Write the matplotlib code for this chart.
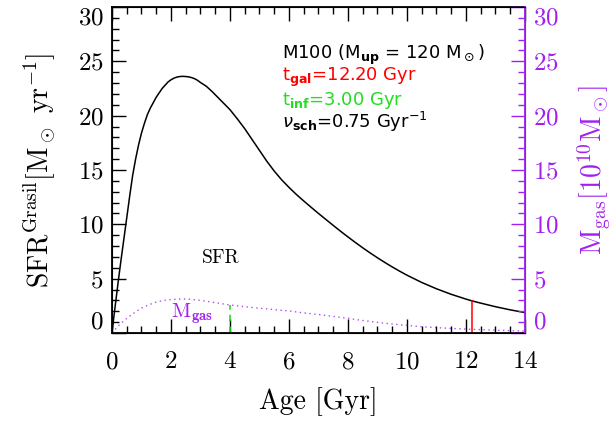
import matplotlib
matplotlib.use("Agg")
import matplotlib.pyplot as plt
from matplotlib.ticker import MultipleLocator

plt.rcParams['font.family'] = 'serif'
plt.rcParams['font.serif'] = ['cmr10', 'DejaVu Serif']
plt.rcParams['mathtext.fontset'] = 'cm'
plt.rcParams['axes.formatter.use_mathtext'] = True

purple = '#a020f0'

# star formation rate vs age (Msun/yr)
age_sfr = [0.0, 0.05, 0.1, 0.2, 0.3, 0.4, 0.5, 0.6, 0.7, 0.8, 0.9, 1.0,
           1.1, 1.2, 1.3, 1.4, 1.5, 1.6, 1.7, 1.8, 1.9, 2.0, 2.1, 2.2, 2.3,
           2.4, 2.5, 2.6, 2.7, 2.8, 2.9, 3.0, 3.2, 3.4, 3.6, 3.8, 4.0, 4.25,
           4.5, 4.75, 5.0, 5.25, 5.5, 5.75, 6.0, 6.25, 6.5, 6.75, 7.0, 7.25,
           7.5, 7.75, 8.0, 8.25, 8.5, 8.75, 9.0, 9.25, 9.5, 9.75, 10.0, 10.5,
           11.0, 11.5, 12.0, 12.2, 12.5, 13.0, 13.5, 14.0]
sfr = [0.0, 1.2, 2.3, 4.5, 6.6, 8.6, 10.6, 12.6, 14.5, 16.0, 17.3, 18.4,
       19.3, 20.1, 20.7, 21.2, 21.7, 22.1, 22.5, 22.8, 23.1, 23.3, 23.45,
       23.55, 23.6, 23.62, 23.6, 23.57, 23.5, 23.4, 23.25, 23.05, 22.7,
       22.2, 21.65, 21.1, 20.55, 19.7, 18.8, 17.8, 16.8, 15.8, 14.9, 14.1,
       13.4, 12.75, 12.15, 11.57, 11.0, 10.45, 9.9, 9.36, 8.84, 8.33, 7.84,
       7.37, 6.92, 6.49, 6.08, 5.69, 5.32, 4.65, 4.07, 3.56, 3.12, 2.96,
       2.75, 2.42, 2.13, 1.88]

# gas mass vs age (1e10 Msun)
age_gas = [0.0, 0.1, 0.25, 0.5, 0.75, 1.0, 1.25, 1.5, 1.75, 2.0, 2.25, 2.5,
           2.75, 3.0, 3.3, 3.6, 4.0, 4.5, 5.0, 5.5, 6.0, 6.5, 7.0, 7.5, 8.0,
           8.5, 9.0, 9.5, 10.0, 10.5, 11.0, 11.5, 12.0, 12.5, 13.0, 13.5, 14.0]
mgas = [0.0, 0.3, 0.75, 1.35, 1.85, 2.3, 2.6, 2.85, 3.0, 3.08, 3.12, 3.13,
        3.08, 3.0, 2.88, 2.75, 2.58, 2.42, 2.28, 2.15, 2.03, 1.85, 1.7, 1.53,
        1.35, 1.15, 0.98, 0.83, 0.7, 0.58, 0.49, 0.42, 0.36, 0.31, 0.26,
        0.22, 0.18]

t_gal = 12.20
t_inf = 3.00
nu_sch = 0.75
t_mark = 4.0
sfr_at_tgal = 2.96
mgas_at_mark = 2.58

xticks = [0, 2, 4, 6, 8, 10, 12, 14]
yticks = [0, 5, 10, 15, 20, 25, 30]

fig = plt.figure(figsize=(6.13, 4.26), dpi=100)
ax = fig.add_axes([0.1827, 0.2183, 0.6737, 0.7653])
ax2 = ax.twinx()

ax.plot(age_sfr, sfr, color='k', lw=1.1)
ax.plot([t_gal, t_gal], [0, sfr_at_tgal], color='red', lw=1.1)
ax.plot([t_mark, t_mark], [0, mgas_at_mark], color='#22dd22', lw=1.2, ls=(0, (4, 3)))
ax2.plot(age_gas, mgas, color=purple, lw=1.0, ls=(0, (1, 2.5)), alpha=0.8)

ax.set_xlim(0, 14)
ax.set_ylim(0, 30)
ax2.set_ylim(0, 30)

ax.set_xticks(xticks)
ax.set_yticks(yticks)
ax2.set_yticks(yticks)
ax.xaxis.set_minor_locator(MultipleLocator(0.5))
ax.yaxis.set_minor_locator(MultipleLocator(1))
ax2.yaxis.set_minor_locator(MultipleLocator(1))

ax.tick_params(axis='both', which='major', direction='in', length=10, width=1,
               labelsize=18, top=True)
ax.tick_params(axis='both', which='minor', direction='in', length=5, width=1, top=True)
ax.tick_params(axis='x', pad=13)
ax.tick_params(axis='y', pad=6)
ax2.tick_params(axis='y', which='major', direction='in', length=10, width=1,
                labelsize=18, colors=purple, pad=6)
ax2.tick_params(axis='y', which='minor', direction='in', length=5, width=1, colors=purple)

# end labels sit inside the axis range
for a in (ax, ax2):
    labs = a.get_yticklabels()
    labs[0].set_va('bottom')
    labs[-1].set_va('top')

for s in ['left', 'bottom', 'top']:
    ax.spines[s].set_linewidth(1.3)
ax2.spines['right'].set_color(purple)
ax2.spines['right'].set_linewidth(1.3)

ax.set_xlabel('Age [Gyr]', fontsize=20, labelpad=10)
ax.set_ylabel(r'SFR$^{\rm Grasil}$[M$_\odot$ yr$^{-1}$]', fontsize=20, labelpad=14)
ax2.set_ylabel(r'M$_{\rm gas}$[10$^{10}$M$_\odot$]', fontsize=20, color=purple,
               labelpad=12)

ax.text(3.05, 6.9, 'SFR', fontsize=14, va='center', ha='left')
ax.text(2.0, 1.8, r'M$_{\mathbf{gas}}$', fontsize=15, va='center', ha='left',
        color=purple)

info = [
    (r'M100 (M$_{\mathbf{up}}$ = 120 M$_\odot$)', 'k', 25.6),
    (r't$_{\mathbf{gal}}$=%.2f Gyr' % t_gal, 'red', 23.5),
    (r't$_{\mathbf{inf}}$=%.2f Gyr' % t_inf, '#22dd22', 21.4),
    (r'$\nu_{\mathbf{sch}}$=%.2f Gyr$^{-1}$' % nu_sch, 'k', 19.4),
]
for txt, c, yy in info:
    ax.text(5.76, yy, txt, fontsize=13, color=c, va='center', ha='left',
            family='DejaVu Sans', math_fontfamily='dejavusans')

fig.savefig('out.png', dpi=100)
